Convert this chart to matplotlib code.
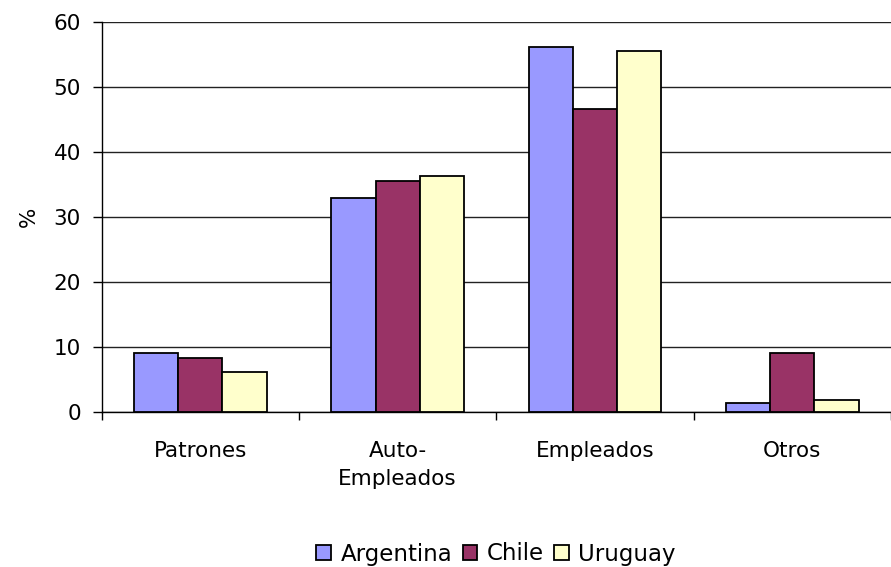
import matplotlib
matplotlib.use("Agg")
import matplotlib.pyplot as plt
import numpy as np

categories = ["Patrones", "Auto-\nEmpleados", "Empleados", "Otros"]
series = ["Argentina", "Chile", "Uruguay"]
argentina = [9.2, 32.9, 56.2, 1.4]
chile = [8.3, 35.6, 46.7, 9.2]
uruguay = [6.2, 36.3, 55.6, 1.9]
y_ticks = [0, 10, 20, 30, 40, 50, 60]

colors = ["#9999FF", "#993366", "#FFFFCC"]

fig = plt.figure(figsize=(8.91, 5.67), dpi=100)
W, H = 891, 567
left, right, top, bottom = 101.7, 891, 22.3, 412.3
ax = fig.add_axes([left / W, 1 - bottom / H, (right - left) / W, (bottom - top) / H])

x = np.arange(len(categories))
bw = 0.224
for i, (vals, name, c) in enumerate(zip([argentina, chile, uruguay], series, colors)):
    ax.bar(x + (i - 1) * bw, vals, width=bw, color=c, edgecolor="black",
           linewidth=1.3, label=name, zorder=3)

ax.set_ylim(0, 60)
ax.set_xlim(-0.5, -0.5 + (right - left) / 199.3)
ax.set_yticks(y_ticks)
ax.yaxis.grid(True, color="#222222", linewidth=1.0, zorder=0)
ax.set_axisbelow(True)

for s in ["top", "right"]:
    ax.spines[s].set_visible(False)
ax.spines["left"].set_linewidth(1.0)
ax.spines["bottom"].set_linewidth(1.0)

fs = 15.5
# category separators as ticks; labels at group centres
ax.set_xticks(np.arange(len(categories) + 1) - 0.5)
ax.set_xticklabels([])
ax.set_xticks(x, minor=True)
ax.set_xticklabels(categories, minor=True, fontsize=fs, linespacing=1.45)
ax.tick_params(axis="x", which="major", direction="out", length=6, width=1)
ax.tick_params(axis="x", which="minor", length=0, pad=21)
ax.tick_params(axis="y", direction="out", length=6.3, width=1, labelsize=fs, pad=8.6)

ax.set_ylabel("%", fontsize=fs)
ax.yaxis.set_label_coords((39 - left) / (right - left), 0.5)

handles, labels = ax.get_legend_handles_labels()
fig.legend(handles, labels, loc="center", bbox_to_anchor=(496 / W, 1 - 554 / H),
           ncol=3, frameon=False, fontsize=16.5, handlelength=0.65, handleheight=0.65,
           handletextpad=0.4, columnspacing=0.45, borderpad=0)

fig.savefig("out.png", dpi=100)
